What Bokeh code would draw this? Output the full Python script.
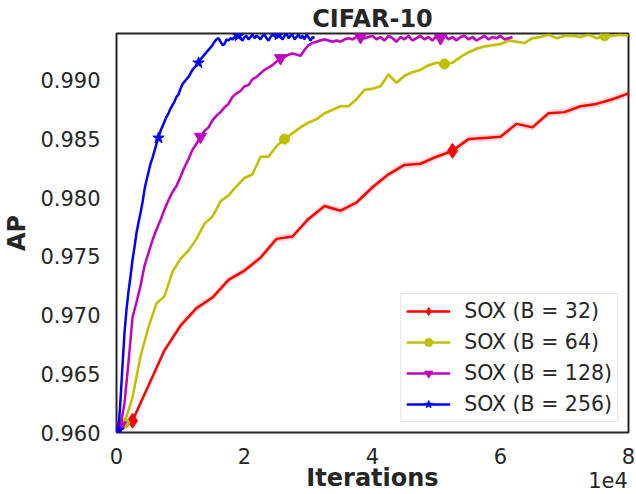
import numpy as np
from bokeh.plotting import figure
from bokeh.models import Range1d, FixedTicker, PrintfTickFormatter, Legend, LegendItem
from bokeh.embed import file_html
from bokeh.resources import INLINE

# ---------------- data ----------------
title = "CIFAR-10"
x_label = "Iterations"
y_label = "AP"
x_scale_text = "1e4"
x_ticks = [0, 2, 4, 6, 8]
y_ticks = [0.960, 0.965, 0.970, 0.975, 0.980, 0.985, 0.990]
labels = ["SOX (B = 32)", "SOX (B = 64)", "SOX (B = 128)", "SOX (B = 256)"]
# iterations per evaluation step, in units of 1e4
step_1e4 = [0.25, 0.125, 0.0625, 0.03125]

ap_b32 = [0.9600, 0.9610, 0.9640, 0.9670, 0.9691, 0.9706, 0.9715, 0.9730, 0.9738, 0.9749,
          0.9765, 0.9767, 0.9782, 0.9793, 0.9789, 0.9796, 0.9809, 0.9820, 0.9828, 0.9829,
          0.9835, 0.9840, 0.9850, 0.9851, 0.9852, 0.9863, 0.9860, 0.9872, 0.9873, 0.9878,
          0.9880, 0.9884, 0.9889, 0.9893]

ap_b64 = [0.9600, 0.9608, 0.9630, 0.9665, 0.9690, 0.9710, 0.9716, 0.9737, 0.9748, 0.9755,
          0.9765, 0.9778, 0.9784, 0.9797, 0.9802, 0.9810, 0.9817, 0.9820, 0.9835, 0.9835,
          0.9844, 0.9850, 0.9855, 0.9860, 0.9864, 0.9867, 0.9872, 0.9875, 0.9878, 0.9878,
          0.9884, 0.9892, 0.9893, 0.9895, 0.9905, 0.9898, 0.9904, 0.9907, 0.9909, 0.9913,
          0.9915, 0.9914, 0.9915, 0.9920, 0.9924, 0.9927, 0.9929, 0.9930, 0.9931, 0.9934,
          0.9933, 0.9932, 0.9936, 0.9937, 0.9939, 0.9936, 0.9938, 0.9938, 0.9937, 0.9939,
          0.9936, 0.9938, 0.9938, 0.9939, 0.9938]

ap_b128 = [0.9600, 0.9606, 0.9625, 0.9660, 0.9698, 0.9711, 0.9725, 0.9742, 0.9753, 0.9764,
           0.9773, 0.9781, 0.9790, 0.9798, 0.9805, 0.9810, 0.9818, 0.9826, 0.9833, 0.9841,
           0.9846, 0.9852, 0.9857, 0.9860, 0.9866, 0.9870, 0.9873, 0.9877, 0.9880, 0.9886,
           0.9889, 0.9891, 0.9895, 0.9896, 0.9901, 0.9903, 0.9906, 0.9909, 0.9911, 0.9913,
           0.9916, 0.9919, 0.9920, 0.9922, 0.9923, 0.9922, 0.9921, 0.9926, 0.9930, 0.9932,
           0.9933, 0.9934, 0.9935, 0.9934, 0.9933, 0.9934, 0.9933, 0.9935, 0.9936, 0.9935,
           0.9937, 0.9937, 0.9936, 0.9937, 0.9938, 0.9935, 0.9937, 0.9934, 0.9938, 0.9936,
           0.9933, 0.9937, 0.9935, 0.9938, 0.9934, 0.9936, 0.9938, 0.9935, 0.9937, 0.9934,
           0.9938, 0.9936, 0.9939, 0.9935, 0.9937, 0.9934, 0.9937, 0.9938, 0.9935, 0.9937,
           0.9934, 0.9936, 0.9938, 0.9935, 0.9937, 0.9936, 0.9938, 0.9935, 0.9936, 0.9937]

ap_b256 = [0.9600, 0.9602, 0.9628, 0.9657, 0.9685, 0.9705, 0.9720, 0.9733, 0.9747, 0.9758,
           0.9770, 0.9779, 0.9787, 0.9796, 0.9807, 0.9815, 0.9822, 0.9829, 0.9834, 0.9840,
           0.9846, 0.9851, 0.9857, 0.9861, 0.9865, 0.9869, 0.9872, 0.9876, 0.9879, 0.9882,
           0.9886, 0.9888, 0.9893, 0.9897, 0.9899, 0.9901, 0.9903, 0.9906, 0.9909, 0.9911,
           0.9913, 0.9915, 0.9918, 0.9920, 0.9922, 0.9924, 0.9926, 0.9928, 0.9930, 0.9933,
           0.9935, 0.9936, 0.9933, 0.9930, 0.9931, 0.9935, 0.9934, 0.9936, 0.9935, 0.9937,
           0.9936, 0.9938, 0.9936, 0.9934, 0.9937, 0.9938, 0.9935, 0.9937, 0.9939, 0.9936,
           0.9938, 0.9937, 0.9935, 0.9938, 0.9939, 0.9936, 0.9934, 0.9937, 0.9939, 0.9938,
           0.9936, 0.9939, 0.9937, 0.9935, 0.9938, 0.9940, 0.9936, 0.9938, 0.9939, 0.9935,
           0.9937, 0.9939, 0.9936, 0.9938, 0.9935, 0.9939, 0.9937, 0.9934, 0.9937, 0.9936]

# spread (std) of the shaded bands
band_std = [0.00030, 0.00020, 0.00015, 0.00015]

series = [ap_b32, ap_b64, ap_b128, ap_b256]

# ---------------- styles ----------------
colors = ["#ff0000", "#bfbf00", "#bf00bf", "#0000ff"]
markers = ["diamond", "circle", "inverted_triangle", "star"]
marker_sizes = [15, 10, 12, 12]
FONT = "DejaVu Sans"
TXT = "#262626"
SCALE_POS = 7.68   # where the "1e4" offset text is centred (axis units)

p = figure(width=636, height=494, output_backend="svg", toolbar_location=None,
           x_range=Range1d(0, 8), y_range=Range1d(0.960, 0.994),
           min_border_left=116, min_border_right=8, min_border_top=33, min_border_bottom=62)

p.title.text = title
p.title.align = "center"
p.title.text_font = FONT
p.title.text_font_size = "24px"
p.title.text_font_style = "bold"
p.title.text_color = TXT
p.title.standoff = 2

p.xgrid.visible = False
p.ygrid.visible = False
p.outline_line_color = TXT
p.outline_line_width = 2
p.background_fill_color = "white"
p.border_fill_color = "white"

for ax in (p.xaxis[0], p.yaxis[0]):
    ax.axis_line_color = None
    ax.major_tick_line_color = None
    ax.minor_tick_line_color = None
    ax.major_tick_in = 0
    ax.major_tick_out = 0
    ax.major_label_text_font = FONT
    ax.major_label_text_font_size = "21px"
    ax.major_label_text_color = TXT
    ax.axis_label_text_font = FONT
    ax.axis_label_text_font_size = "24px"
    ax.axis_label_text_font_style = "bold"
    ax.axis_label_text_color = TXT

# the offset text "1e4" is drawn as a second line under an extra (mark-less) tick
p.xaxis.ticker = FixedTicker(ticks=x_ticks + [SCALE_POS])
p.xaxis.major_label_overrides = {SCALE_POS: " \n" + x_scale_text}
p.xaxis.major_label_text_line_height = 1.0
p.yaxis.ticker = FixedTicker(ticks=y_ticks)
p.yaxis.formatter = PrintfTickFormatter(format="%.3f")
p.xaxis.axis_label = x_label
p.yaxis.axis_label = y_label
p.xaxis.major_label_standoff = 12
p.yaxis.major_label_standoff = 16
p.xaxis.axis_label_standoff = -32
p.yaxis.axis_label_standoff = 6

items = []
for k, ys in enumerate(series):
    ys = np.array(ys)
    xs = np.arange(len(ys)) * step_1e4[k]
    p.varea(x=xs, y1=ys - band_std[k], y2=ys + band_std[k], fill_color=colors[k], fill_alpha=0.15)
    lr = p.line(xs, ys, line_color=colors[k], line_width=2.5)
    idx = np.arange(1, len(ys), 20)
    idx = idx[xs[idx] <= 8]
    mr = p.scatter(xs[idx], ys[idx], marker=markers[k], size=marker_sizes[k],
                   fill_color=colors[k], line_color=colors[k])
    items.append(LegendItem(label=labels[k], renderers=[lr, mr]))

legend = Legend(items=items, location="bottom_right")
legend.label_text_font = FONT
legend.label_text_font_size = "20.5px"
legend.label_text_color = TXT
legend.glyph_width = 44
legend.glyph_height = 20
legend.label_height = 20
legend.spacing = 7
legend.padding = 5
legend.margin = 10
legend.label_standoff = 14
legend.border_line_color = "#cccccc"
legend.border_line_width = 1
legend.background_fill_alpha = 0.9
p.add_layout(legend)

open("out.html", "w").write(file_html(p, INLINE))
